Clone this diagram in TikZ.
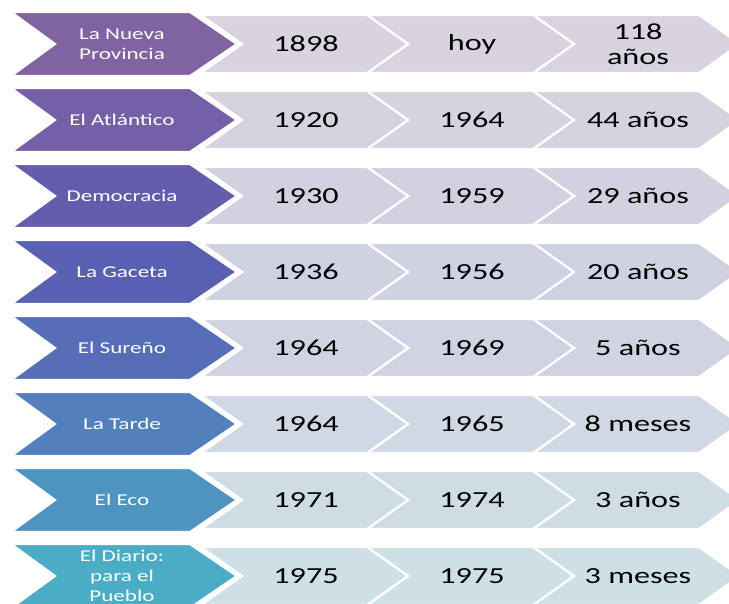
\documentclass[tikz,border=0pt]{standalone}
\usepackage{fontspec}
\setmainfont{Carlito}[FakeStretch=1.4]
\definecolor{c0}{HTML}{8064A2}
\definecolor{c1}{HTML}{7460A7}
\definecolor{c2}{HTML}{645DAD}
\definecolor{c3}{HTML}{5960B2}
\definecolor{c4}{HTML}{556EB7}
\definecolor{c5}{HTML}{5280BC}
\definecolor{c6}{HTML}{4E94C1}
\definecolor{c7}{HTML}{4BACC6}
\tikzset{
  chevline/.style={draw=white, line width=2.2pt, line join=miter},
  headtext/.style={text=white, align=center, font=\fontsize{16.5}{20}\selectfont, inner sep=0pt},
  celltext/.style={text=black, align=center, font=\fontsize{23}{25}\selectfont, inner sep=0pt}
}
\begin{document}
\begin{tikzpicture}[x=1pt,y=-1pt]
\fill[white] (0,0) rectangle (729,604);
\useasboundingbox (0,0) rectangle (729,604);
\clip (0,0) rectangle (729,604);
\foreach \k/\n/\a/\b/\d in {
  0/{La Nueva\\Provincia}/1898/hoy/{118\\años},
  1/{El Atlántico}/1920/1964/{44 años},
  2/{Democracia}/1930/1959/{29 años},
  3/{La Gaceta}/1936/1956/{20 años},
  4/{El Sureño}/1964/1969/{5 años},
  5/{La Tarde}/1964/1965/{8 meses},
  6/{El Eco}/1971/1974/{3 años},
  7/{El Diario:\\para el\\Pueblo}/1975/1975/{3 meses}}{
  \pgfmathsetmacro{\yc}{44+76*\k}
  \colorlet{lt}{c\k!20!white!94!black}
  % light chevrons
  \foreach \i in {2,1,0}{
    \pgfmathsetmacro{\xo}{201+166*\i}
    \path[chevline, fill=lt] (\xo,\yc-29) -- (\xo+166,\yc-29) -- (\xo+207,\yc)
      -- (\xo+166,\yc+29) -- (\xo,\yc+29) -- (\xo+41,\yc) -- cycle;
  }
  % coloured chevron
  \path[chevline, fill=c\k] (11,\yc-32) -- (190,\yc-32) -- (237,\yc)
    -- (190,\yc+32) -- (11,\yc+32) -- (55,\yc) -- cycle;
  \node[headtext] (lab\k) at (122,\yc) {\n};
  \node[celltext] (a\k) at (306,\yc) {\a};
  \node[celltext] (b\k) at (472,\yc) {\b};
  \node[celltext] (d\k) at (638,\yc) {\d};
}
\end{tikzpicture}
\end{document}
